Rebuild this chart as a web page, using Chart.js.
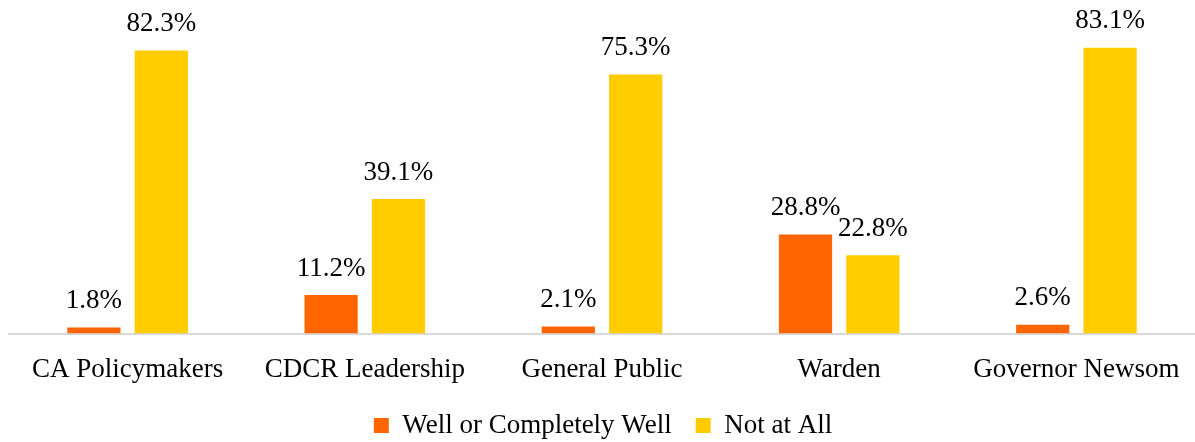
<!DOCTYPE html>
<html>
<head>
<meta charset="utf-8">
<script src="https://cdn.jsdelivr.net/npm/chart.js@4"></script>
<style>
  html, body { margin: 0; padding: 0; background: #fff; }
  #wrap { width: 1195px; height: 442px; }
</style>
</head>
<body>
<div id="wrap"><canvas id="myChart" width="1195" height="442"></canvas></div>
<script>
const categories = ['CA Policymakers', 'CDCR Leadership', 'General Public', 'Warden', 'Governor Newsom'];
const wellValues = [1.8, 11.2, 2.1, 28.8, 2.6];
const notAtAllValues = [82.3, 39.1, 75.3, 22.8, 83.1];

const FONT = '"Liberation Serif", "DejaVu Serif", serif';

// draws the value above each bar
const valueLabels = {
    id: 'valueLabels',
    afterDatasetsDraw(chart) {
        const ctx = chart.ctx;
        ctx.save();
        ctx.font = '27px ' + FONT;
        ctx.fillStyle = '#000';
        ctx.textAlign = 'center';
        ctx.textBaseline = 'bottom';
        chart.data.datasets.forEach((ds, i) => {
            chart.getDatasetMeta(i).data.forEach((bar, j) => {
                ctx.fillText(ds.data[j].toFixed(1) + '%', bar.x, bar.y - 13);
            });
        });
        ctx.restore();
    }
};

const ctx = document.getElementById('myChart').getContext('2d');
new Chart(ctx, {
    type: 'bar',
    data: {
        labels: categories,
        datasets: [
            {
                label: 'Well or Completely Well',
                data: wellValues,
                backgroundColor: '#FF6600',
                categoryPercentage: 0.568,
                barPercentage: 0.79
            },
            {
                label: 'Not at All',
                data: notAtAllValues,
                backgroundColor: '#FFCC00',
                categoryPercentage: 0.568,
                barPercentage: 0.79
            }
        ]
    },
    options: {
        responsive: false,
        animation: false,
        layout: { padding: { top: 24, left: 9, right: -2, bottom: -7 } },
        plugins: {
            legend: {
                position: 'bottom',
                labels: {
                    font: { family: FONT, size: 27 },
                    color: '#000',
                    boxWidth: 15,
                    boxHeight: 15,
                    padding: 24
                }
            },
            tooltip: { enabled: false }
        },
        scales: {
            x: {
                grid: { display: false },
                border: { color: '#D9D9D9', width: 2 },
                ticks: {
                    font: { family: FONT, size: 27 },
                    color: '#000',
                    padding: 12,
                    maxRotation: 0
                },
                afterFit: (scale) => { scale.height -= 10; }
            },
            y: {
                display: false,
                min: 0,
                max: 90
            }
        }
    },
    plugins: [valueLabels]
});
</script>
</body>
</html>
